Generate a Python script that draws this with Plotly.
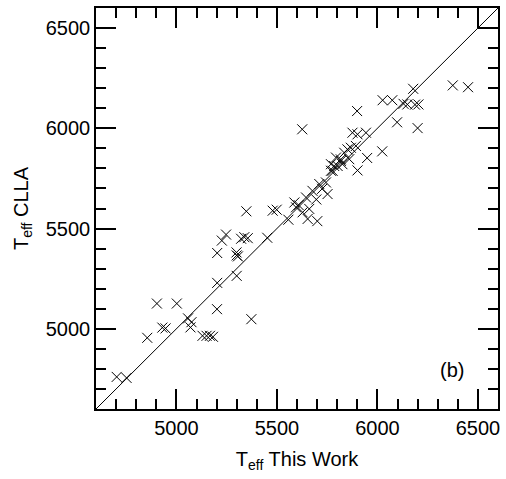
import plotly.graph_objects as go

# T_eff This Work (x) and T_eff CLLA (y)
teff_this_work = [
    4703, 4752, 4855, 4903, 5002, 4930, 4946, 5058, 5075, 5070,
    5130, 5150, 5167, 5182, 5202, 5203, 5203, 5300, 5299, 5306,
    5300, 5373, 5348, 5479, 5499, 5557, 5247, 5226, 5322, 5338,
    5355, 5452, 5595, 5608, 5626, 5701, 5587, 5628, 5653, 5661,
    5645, 5677, 5711, 5744, 5752, 5777, 5802, 5818, 5769, 5794,
    5696, 5725, 5876, 5901, 5943, 6024, 5949, 5901, 5785, 5818,
    5835, 5851, 5868, 5893, 5826, 5860, 5769, 5899, 6098, 6200,
    6026, 6074, 6130, 6149, 6187, 6204, 6178, 6375, 6451,
]
teff_clla = [
    4760, 4755, 4955, 5126, 5126, 5006, 5002, 5052, 5033, 5007,
    4965, 4965, 4965, 4960, 5098, 5229, 5378, 5366, 5381, 5361,
    5264, 5048, 5586, 5589, 5594, 5544, 5470, 5440, 5449, 5457,
    5452, 5454, 5606, 5617, 5995, 5537, 5630, 5581, 5548, 5598,
    5655, 5688, 5722, 5730, 5672, 5788, 5812, 5837, 5821, 5854,
    5645, 5698, 5978, 5970, 5978, 5885, 5852, 5790, 5812, 5845,
    5878, 5895, 5903, 5912, 5821, 5846, 5788, 6086, 6030, 6001,
    6140, 6140, 6122, 6119, 6118, 6119, 6197, 6214, 6205,
]
axis_range = [4600, 6600]
tick_vals = [5000, 5500, 6000, 6500]
tick_text = ["5000", "5500", "6000", "6500"]

FONT = "Liberation Sans, Arial, Helvetica, sans-serif"

fig = go.Figure()
fig.add_trace(go.Scatter(
    x=axis_range, y=axis_range, mode="lines",
    line=dict(color="black", width=1), hoverinfo="skip", showlegend=False,
))
fig.add_trace(go.Scatter(
    x=teff_this_work, y=teff_clla, mode="markers",
    marker=dict(symbol="x-thin", size=10, line=dict(color="black", width=1)),
    showlegend=False,
))

axis_common = dict(
    range=axis_range, tickvals=tick_vals, ticktext=tick_text,
    ticks="inside", ticklen=20, tickwidth=1.5, tickcolor="black",
    showline=True, linecolor="black", linewidth=1.5, mirror="allticks",
    showgrid=False, zeroline=False,
    tickfont=dict(family=FONT, size=20, color="black"),
    minor=dict(dtick=100, tick0=4600, ticks="inside", ticklen=10,
               tickwidth=1.5, tickcolor="black", showgrid=False),
)

fig.update_layout(
    width=506, height=479,
    margin=dict(l=96, r=6, t=6, b=70),
    paper_bgcolor="white", plot_bgcolor="white",
    font=dict(family=FONT, size=20, color="black"),
    xaxis=dict(**axis_common,
               title=dict(text="T<sub>eff</sub> This Work", standoff=14,
                          font=dict(family=FONT, size=20))),
    yaxis=dict(**axis_common,
               title=dict(text="T<sub>eff</sub> CLLA", standoff=12,
                          font=dict(family=FONT, size=20))),
    annotations=[dict(text="(b)", x=6370, y=4795, xref="x", yref="y",
                      showarrow=False, font=dict(family=FONT, size=20))],
)

fig.write_html("out.html")
